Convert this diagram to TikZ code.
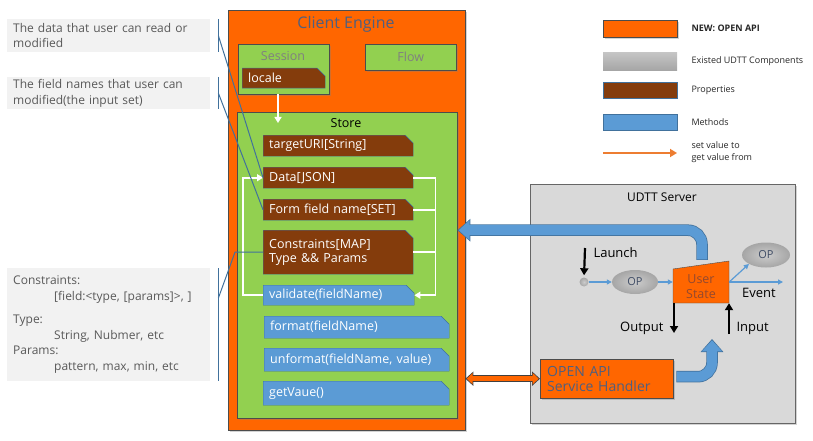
\documentclass[tikz,border=0pt]{standalone}
\usepackage{fontspec}
\setmainfont{Open Sans}
\usetikzlibrary{shapes.misc,shapes.geometric,arrows.meta,positioning,shadows}
\definecolor{apiorange}{HTML}{FF6600}
\definecolor{storegreen}{HTML}{92D050}
\definecolor{propbrown}{HTML}{843C0C}
\definecolor{methodblue}{HTML}{5B9BD5}
\definecolor{edgeblue}{HTML}{41719C}
\definecolor{notegray}{HTML}{F2F2F2}
\definecolor{servergray}{HTML}{D9D9D9}
\definecolor{titleblue}{HTML}{4F5F7F}
\definecolor{statetext}{HTML}{94492E}
\definecolor{legorange}{HTML}{ED7D31}

\begin{document}
\begin{tikzpicture}[x=1pt, y=-1pt, font=\fontsize{12.5}{14}\selectfont,
    frame/.style={draw=black!70, anchor=north west, inner sep=0pt, drop shadow={shadow xshift=2pt, shadow yshift=-2pt, opacity=.35}},
    prop/.style={chamfered rectangle, chamfered rectangle corners=north east, chamfered rectangle sep=4pt, fill=propbrown, draw=edgeblue, text=white, anchor=north west, align=left, inner xsep=2pt, inner ysep=0pt},
    meth/.style={prop, fill=methodblue},
    note/.style={fill=notegray, text=black!65, anchor=north west, align=left, inner xsep=6pt, inner ysep=0pt, text width=191pt, font=\fontsize{12}{15.5}\selectfont},
    noteline/.style={draw=edgeblue, line width=1pt},
    wline/.style={draw=white, line width=1.8pt},
    wtip/.style={-{Triangle[width=7pt,length=6pt]}},
    thinarrow/.style={methodblue, line width=1.2pt, -{Triangle[width=5pt,length=5pt]}},
    blkarrow/.style={line width=2.2pt, -{Triangle[width=8pt,length=7pt]}},
    op/.style={ellipse, inner color=gray!40, outer color=gray!70, text=titleblue!80!black, font=\fontsize{11}{12}\selectfont, minimum width=46pt, minimum height=24pt, inner sep=0pt},
    srvtext/.style={font=\fontsize{13}{15}\selectfont},
    legbox/.style={anchor=north west, minimum width=74pt, inner sep=0pt},
    legtext/.style={anchor=west, font=\fontsize{9}{12}\selectfont, text=black!85, align=left}
]
\useasboundingbox (0,0) rectangle (813,441);

% client engine
\node[frame, fill=apiorange, minimum width=237pt, minimum height=420pt] (engine) at (228,10) {};
\node[text=titleblue, font=\fontsize{16}{18}\selectfont] (enginet) at (346,24) {Client Engine};
\node[frame, fill=storegreen, minimum width=91pt, minimum height=50pt] (session) at (238,44) {};
\node[text=black!50] (sessiont) at (283,56) {Session};
\node[prop, text width=71pt, minimum height=20pt] (locale) at (242,68) {locale};
\node[frame, fill=storegreen, minimum width=91pt, minimum height=26pt, text=black!50] (flow) at (365,44) {Flow};
\node[frame, fill=storegreen, minimum width=220pt, minimum height=306pt] (store) at (237,112) {};
\node (storet) at (346,123) {Store};

% properties and methods
\node[prop, text width=138pt, minimum height=21pt] (uri) at (263,135) {targetURI[String]};
\node[prop, text width=138pt, minimum height=21pt] (data) at (263,167) {Data[JSON]};
\node[prop, text width=138pt, minimum height=21pt] (form) at (263,199) {Form field name[SET]};
\node[prop, text width=138pt, minimum height=44pt] (cons) at (263,230) {Constraints[MAP]\\Type \&\& Params};
\node[meth, text width=139pt, minimum height=20pt] (validate) at (263,285) {validate(fieldName)};
\node[meth, text width=173pt, minimum height=22pt] (format) at (264,316) {format(fieldName)};
\node[meth, text width=173pt, minimum height=23pt] (unformat) at (264,348) {unformat(fieldName, value)};
\node[meth, text width=174pt, minimum height=24pt] (getvalue) at (263,381) {getVaue()};

\coordinate (storein) at (278,123);
\draw[wline, line width=2.2pt, wtip] (session.south -| storein) -- (storein);
\coordinate (bus) at ([xshift=21pt]validate.east);
\draw[wline, wtip] (data.east) -| (bus) -- (validate.east);
\draw[wline] (form.east) -- (form.east -| bus);
\draw[wline] (cons.east) -- (cons.east -| bus);
\draw[wline, wtip] (validate.west) -- ++(-20,0) |- (data.west);

% udtt server
\node[frame, fill=servergray, draw=black!60, minimum width=265pt, minimum height=239pt] (server) at (530,184) {};
\node[font=\fontsize{12}{14}\selectfont] (servert) at (662,197) {UDTT Server};
\node[frame, fill=apiorange, text=titleblue, align=left, text width=119pt, inner xsep=7pt, minimum height=39pt, font=\fontsize{14}{15}\selectfont] (handler) at (540,359) {OPEN API\\Service Handler};

\fill[apiorange, draw=black!70] (673,303) -- (673,269) -- (729,261) -- (729,303) -- cycle;
\node[minimum width=56pt, minimum height=42pt, inner sep=0pt] (ustate) at (701,282) {};
\node[text=statetext, align=center, font=\fontsize{12.5}{15}\selectfont] (ustatet) at (701,287) {User\\State};

\node[op] (op1) at (635,282) {OP};
\node[op, minimum width=48pt, minimum height=25pt] (op2) at (766,255) {OP};
\node[circle, inner color=gray!40, outer color=gray!70, minimum size=9pt, inner sep=0pt] (dot) at (584,282) {};

\draw[thinarrow] (dot) -- (op1);
\draw[thinarrow] (op1) -- (ustate.west);
\draw[thinarrow] (ustate.east) -- (op2.south west);
\coordinate (event) at (783,282);
\draw[thinarrow] (ustate.east) -- (event);
\node[srvtext] (eventt) at (759,293) {Event};

\coordinate (launch) at (585,248);
\draw[blkarrow, shorten >=2pt] (launch) -- (dot.north);
\node[srvtext, anchor=west] (launcht) at (590,253) {Launch};
\coordinate (outend) at (674,333);
\draw[blkarrow] (ustate.south -| outend) -- (outend);
\node[srvtext, anchor=east] (outt) at (667,328) {Output};
\coordinate (inbeg) at (729,334);
\draw[blkarrow] (inbeg) -- (inbeg |- ustate.south);
\node[srvtext, anchor=west] (int) at (733,328) {Input};

% big arrows
\draw[edgeblue, line width=11.5pt, rounded corners=14pt, -{Triangle[width=22pt,length=13pt]}] ([xshift=1pt,yshift=1pt]ustate.north) |- ([yshift=35pt]store.east);
\draw[methodblue, line width=10pt, rounded corners=14pt, shorten >=1.3pt, -{Triangle[width=19.5pt,length=11pt]}] ([xshift=1pt,yshift=1.5pt]ustate.north) |- ([yshift=35pt]store.east);
\coordinate (inarrow) at (712,339);
\draw[edgeblue, line width=11.5pt, rounded corners=14pt, -{Triangle[width=22pt,length=13pt]}] ([xshift=3pt,yshift=2pt]handler.east) -| (inarrow);
\draw[methodblue, line width=10pt, rounded corners=14pt, shorten >=1.3pt, -{Triangle[width=19.5pt,length=11pt]}] ([xshift=3.5pt,yshift=2pt]handler.east) -| (inarrow);
\draw[black!75, line width=6.5pt, {Triangle[width=14pt,length=8pt]}-{Triangle[width=14pt,length=8pt]}] (engine.east |- handler.west) -- (handler.west);
\draw[apiorange, line width=4.5pt, shorten >=1.3pt, shorten <=1.3pt, {Triangle[width=11pt,length=6pt]}-{Triangle[width=11pt,length=6pt]}] (engine.east |- handler.west) -- (handler.west);

% notes on the left
\node[note, minimum height=33pt] (notedata) at (7,19) {The data that user can read or\\modified};
\node[note, minimum height=32pt] (noteform) at (7,77) {The field names that user can\\modified(the input set)};
\node[note, minimum height=113pt] (notecons) at (7,268) {Constraints:\\\hspace*{41pt}[field:<type, [params]>, ]\\[8pt]Type:\\\hspace*{41pt}String, Nubmer, etc\\Params:\\\hspace*{41pt}pattern, max, min, etc};
\draw[noteline] ([xshift=8pt]notedata.north east) -- ([xshift=8pt]notedata.south east);
\draw[noteline] ([xshift=8pt]notedata.east) -- (data.west);
\draw[noteline] ([xshift=8pt]noteform.north east) -- ([xshift=8pt]noteform.south east);
\draw[noteline] ([xshift=8pt]noteform.east) -- (form.west);
\draw[noteline] ([xshift=8pt]notecons.north east) -- ([xshift=8pt]notecons.south east);
\draw[noteline] ([xshift=8pt,yshift=-30pt]notecons.north east) -- ([xshift=-28pt]cons.west) -- (cons.west);

% legend
\node[frame, fill=apiorange, minimum width=74pt, minimum height=17pt] (legapi) at (603,20) {};
\node[legtext, font=\fontsize{9}{12}\selectfont\bfseries] (legapit) at (688,28.5) {NEW: OPEN API};
\node[legbox, top color=gray!45, bottom color=gray!70, minimum height=18pt] (legudtt) at (603,52) {};
\node[legtext] (legudttt) at (688,61) {Existed UDTT Components};
\node[legbox, fill=propbrown, draw=edgeblue, minimum height=16pt] (legprop) at (603,82) {};
\node[legtext] (legpropt) at (688,90) {Properties};
\node[legbox, fill=methodblue, draw=edgeblue, minimum height=16pt] (legmeth) at (603,114) {};
\node[legtext] (legmetht) at (688,122) {Methods};
\coordinate (legfrom) at (603,153);
\coordinate (legto) at (677,153);
\draw[legorange, line width=2pt, -{Triangle[width=8pt,length=7pt]}] (legfrom) -- (legto);
\node[legtext] (legarrowt) at (688,152) {set value to\\get value from};
\end{tikzpicture}
\end{document}
